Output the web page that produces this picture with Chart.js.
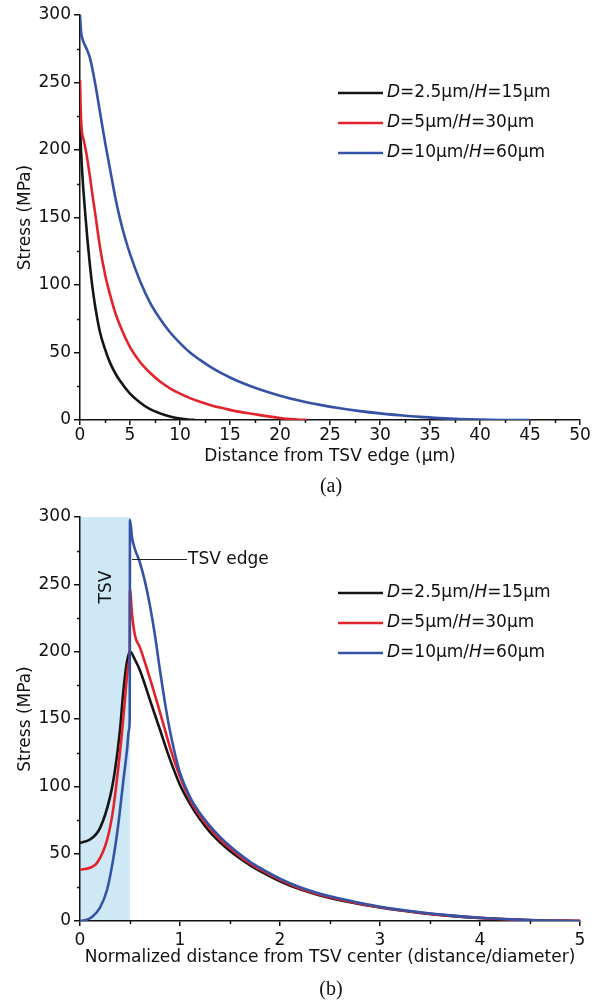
<!DOCTYPE html>
<html><head><meta charset="utf-8">
<script src="https://cdn.jsdelivr.net/npm/chart.js@4.4.1/dist/chart.umd.min.js"></script>
<style>
html,body{margin:0;padding:0;background:#fff;}
#wrap{position:relative;width:605px;height:1002px;overflow:hidden;background:#fff;}
canvas{position:absolute;left:0;display:block;}
#ca{top:0}
#cb{top:500px}
.cap{position:absolute;left:301px;width:60px;text-align:center;font-family:'Liberation Serif',serif;font-size:20px;line-height:20px;color:#111;}
</style></head><body>
<div id="wrap">
<canvas id="ca" width="605" height="500"></canvas>
<canvas id="cb" width="605" height="502"></canvas>
<div class="cap" style="top:475px">(a)</div>
<div class="cap" style="top:978px">(b)</div>
</div>
<script>
// ---------- data ----------
const seriesLabels = ['D=2.5\u03bcm/H=15\u03bcm', 'D=5\u03bcm/H=30\u03bcm', 'D=10\u03bcm/H=60\u03bcm'];
const seriesColors = ['#151515', '#e3232b', '#3553a6'];

const yTickValues = [0, 50, 100, 150, 200, 250, 300];
const xTickValuesA = [0, 5, 10, 15, 20, 25, 30, 35, 40, 45, 50];
const xTickValuesB = [0, 1, 2, 3, 4, 5];

const xTitleA = 'Distance from TSV edge (\u03bcm)';
const xTitleB = 'Normalized distance from TSV center (distance/diameter)';
const yTitle = 'Stress (MPa)';

// (a) stress vs distance from TSV edge
const aBlackX = [0, 0.1, 0.25, 0.5, 0.75, 1.0, 1.25, 1.5, 2, 2.5, 3, 3.5, 4, 5, 6, 7, 8, 9, 10, 11, 11.5];
const aBlackY = [218, 200, 180, 155, 133, 114, 98, 85, 65, 52.5, 42.5, 35, 29, 19.5, 13, 8, 4.9, 2.6, 1.0, 0.2, 0];
const aRedX = [0, 0.08, 0.17, 0.35, 0.6, 1.0, 1.3, 1.5, 2.0, 2.5, 3.0, 3.5, 4.0, 5, 6, 7, 8, 9, 10, 11, 12, 13, 14, 15, 16, 17, 18, 19, 20, 21, 22, 22.7];
const aRedY = [252, 228, 215, 208, 199, 180, 164, 154, 128, 108, 93, 80, 70, 54, 43, 35, 28.5, 23.5, 19.5, 16.2, 13.5, 11.2, 9.2, 7.5, 6, 4.8, 3.6, 2.5, 1.5, 0.7, 0.2, 0];
const aBlueX = [0, 0.1, 0.3, 0.6, 1.0, 1.5, 2.0, 2.5, 3.0, 3.5, 4.0, 4.5, 5, 6, 7, 8, 9, 10, 11, 12, 13, 14, 15, 16, 18, 20, 22, 24, 26, 28, 30, 32, 34, 36, 38, 40, 42, 45];
const aBlueY = [300, 288, 281, 276, 268, 250, 228, 206, 186, 166, 149, 135, 123, 103, 87, 75, 65, 57, 50, 44.5, 39.5, 35.2, 31.5, 28.2, 22.6, 18, 14.2, 11.2, 8.7, 6.6, 4.9, 3.5, 2.3, 1.4, 0.7, 0.25, 0.05, 0];

// (b) stress vs normalized distance from TSV center
const bBlackX = [0, 0.1, 0.2, 0.3, 0.35, 0.4, 0.43, 0.46, 0.48, 0.5, 0.55, 0.6, 0.7, 0.8, 0.9, 1.0, 1.1, 1.2, 1.3, 1.4, 1.5, 1.6, 1.7, 1.8, 2.0, 2.2, 2.4, 2.7, 3.0, 3.4, 3.7, 4.0, 4.5, 5];
const bBlackY = [58, 60.5, 69, 92, 112, 142, 168, 188, 196, 200, 194, 186, 164, 142, 120, 101, 87, 75.5, 66, 58.5, 52, 46.5, 41.5, 37, 29.5, 23.5, 19, 14, 10, 6, 3.8, 2.2, 0.6, 0];
const bRedX = [0, 0.1, 0.17, 0.27, 0.33, 0.38, 0.42, 0.45, 0.47, 0.49, 0.497, 0.5, 0.52, 0.55, 0.6, 0.7, 0.8, 0.9, 1.0, 1.1, 1.2, 1.3, 1.4, 1.5, 1.6, 1.7, 1.8, 2.0, 2.2, 2.4, 2.7, 3.0, 3.4, 3.7, 4.0, 4.5, 5];
const bRedY = [38, 39.5, 43, 60, 82, 112, 140, 165, 182, 192, 195, 246, 228, 212, 203, 180, 155, 129, 107, 90, 78, 68.5, 60.5, 54, 48, 42.8, 38.3, 30.5, 24.2, 19.5, 14.3, 10.2, 6.2, 4, 2.3, 0.7, 0.1];
const bBlueX = [0, 0.05, 0.12, 0.2, 0.27, 0.33, 0.38, 0.43, 0.47, 0.49, 0.497, 0.5, 0.52, 0.55, 0.6, 0.65, 0.7, 0.75, 0.8, 0.85, 0.9, 0.95, 1.0, 1.1, 1.2, 1.3, 1.4, 1.5, 1.6, 1.7, 1.8, 2.0, 2.2, 2.4, 2.7, 3.0, 3.4, 3.7, 4.0, 4.5, 5];
const bBlueY = [0, 0.5, 3, 10, 23, 45, 70, 102, 127, 142, 150, 298, 285, 276, 266, 252, 234, 212, 186, 162, 141, 124, 110, 92, 80, 70.5, 62.5, 55.5, 49.5, 44, 39.5, 31.5, 25, 20.2, 15, 10.6, 6.5, 4.2, 2.4, 0.7, 0];

// annotations for (b)
const tsvRegion = [0, 0.5];        // x-range of TSV shading
const tsvLabel = {text: 'TSV', x: 0.27, y: 248};
const edgeLabel = {text: 'TSV edge', x1: 0.52, x2: 1.07, xText: 1.08, y: 269};

// ---------- rendering ----------
const FONT = "'DejaVu Sans', sans-serif";
Chart.defaults.font.family = FONT;
Chart.defaults.color = '#111';

function pts(xs, ys) { return xs.map((x, i) => ({x: x, y: ys[i]})); }

function makeDatasets(series) {
  return series.map((s, i) => ({
    label: seriesLabels[i],
    data: pts(s[0], s[1]),
    borderColor: seriesColors[i],
    backgroundColor: seriesColors[i],
    borderWidth: 2.6,
    pointRadius: 0,
    fill: false,
    cubicInterpolationMode: 'monotone',
    order: series.length - 1 - i
  }));
}

const minorTicks = {
  id: 'minorTicks',
  afterDraw(chart, args, o) {
    const ctx = chart.ctx;
    const xs = chart.scales.x, ys = chart.scales.y;
    ctx.save();
    ctx.strokeStyle = '#111';
    ctx.lineWidth = 1.5;
    for (let v = xs.min + o.xStep / 2; v < xs.max; v += o.xStep) {
      const p = Math.round(xs.getPixelForValue(v)) + 0.5;
      ctx.beginPath(); ctx.moveTo(p, xs.top); ctx.lineTo(p, xs.top + o.len); ctx.stroke();
    }
    for (let v = ys.min + o.yStep / 2; v < ys.max; v += o.yStep) {
      const p = Math.round(ys.getPixelForValue(v)) + 0.5;
      ctx.beginPath(); ctx.moveTo(ys.right, p); ctx.lineTo(ys.right - o.len, p); ctx.stroke();
    }
    ctx.restore();
  }
};

const mixedLegend = {
  id: 'mixedLegend',
  afterDatasetsDraw(chart, args, o) {
    const ctx = chart.ctx;
    chart.data.datasets.forEach((ds, i) => {
      const y = o.y0 + i * o.dy;
      ctx.save();
      ctx.strokeStyle = ds.borderColor;
      ctx.lineWidth = 2.6;
      ctx.beginPath(); ctx.moveTo(o.x0, y); ctx.lineTo(o.x1, y); ctx.stroke();
      ctx.fillStyle = '#111';
      ctx.textBaseline = 'middle';
      const runs = [];
      for (const ch of ds.label) {
        const it = (ch === 'D' || ch === 'H');
        if (runs.length && runs[runs.length - 1].it === it) runs[runs.length - 1].t += ch;
        else runs.push({t: ch, it: it});
      }
      let x = o.xt;
      runs.forEach(r => {
        ctx.font = (r.it ? 'italic ' : '') + o.size + 'px ' + FONT;
        ctx.fillText(r.t, x, y);
        x += ctx.measureText(r.t).width;
      });
      ctx.restore();
    });
  }
};

const tsvPlugin = {
  id: 'tsv',
  beforeDraw(chart) {
    const xs = chart.scales.x, ys = chart.scales.y, ctx = chart.ctx;
    const x0 = xs.getPixelForValue(tsvRegion[0]), x1 = xs.getPixelForValue(tsvRegion[1]);
    const y0 = ys.getPixelForValue(ys.max), y1 = ys.getPixelForValue(ys.min);
    ctx.save();
    ctx.fillStyle = 'rgb(207,232,245)';
    ctx.fillRect(x0, y0, x1 - x0, y1 - y0);
    ctx.restore();
  },
  afterDatasetsDraw(chart) {
    const xs = chart.scales.x, ys = chart.scales.y, ctx = chart.ctx;
    ctx.save();
    ctx.fillStyle = '#111';
    ctx.font = '17px ' + FONT;
    ctx.textAlign = 'center';
    ctx.textBaseline = 'middle';
    ctx.translate(xs.getPixelForValue(tsvLabel.x), ys.getPixelForValue(tsvLabel.y));
    ctx.rotate(-Math.PI / 2);
    ctx.fillText(tsvLabel.text, 0, 0);
    ctx.restore();

    ctx.save();
    const yy = Math.round(ys.getPixelForValue(edgeLabel.y)) + 0.5;
    ctx.strokeStyle = '#222';
    ctx.lineWidth = 1;
    ctx.beginPath();
    ctx.moveTo(xs.getPixelForValue(edgeLabel.x1), yy);
    ctx.lineTo(xs.getPixelForValue(edgeLabel.x2), yy);
    ctx.stroke();
    ctx.fillStyle = '#111';
    ctx.font = '17px ' + FONT;
    ctx.textBaseline = 'middle';
    ctx.fillText(edgeLabel.text, xs.getPixelForValue(edgeLabel.xText), yy);
    ctx.restore();
  }
};

function makeChart(id, series, xTicks, xTitle, lay, extraPlugins) {
  const xStep = xTicks[1] - xTicks[0];
  const yStep = yTickValues[1] - yTickValues[0];
  return new Chart(document.getElementById(id), {
    type: 'line',
    data: {datasets: makeDatasets(series)},
    plugins: [minorTicks, mixedLegend].concat(extraPlugins),
    options: {
      responsive: false,
      animation: false,
      devicePixelRatio: 1,
      layout: {padding: {left: 0, right: 25, top: lay.top, bottom: 0}},
      plugins: {
        legend: {display: false},
        tooltip: {enabled: false},
        minorTicks: {xStep: xStep, yStep: yStep, len: 3},
        mixedLegend: {x0: 338, x1: 383, xt: 387, y0: 93, dy: 30, size: 17}
      },
      scales: {
        x: {
          type: 'linear',
          min: xTicks[0], max: xTicks[xTicks.length - 1],
          afterBuildTicks: (s) => { s.ticks = xTicks.map(v => ({value: v})); },
          afterFit: (s) => { s.height = lay.xH; },
          grid: {display: true, drawOnChartArea: false, drawTicks: true, tickLength: 5, color: '#111', lineWidth: 1.5},
          border: {display: true, color: '#111', width: 1.5},
          ticks: {padding: lay.xPad, font: {size: 17}, color: '#111', maxRotation: 0, autoSkip: false},
          title: {display: true, text: xTitle, font: {size: 17}, color: '#111', padding: {top: 0, bottom: lay.xTitlePad}}
        },
        y: {
          type: 'linear',
          min: yTickValues[0], max: yTickValues[yTickValues.length - 1],
          afterBuildTicks: (s) => { s.ticks = yTickValues.map(v => ({value: v})); },
          afterFit: (s) => { s.width = 80; },
          grid: {display: true, drawOnChartArea: false, drawTicks: true, tickLength: 6, color: '#111', lineWidth: 1.5},
          border: {display: true, color: '#111', width: 1.5},
          ticks: {padding: 3, font: {size: 17}, color: '#111'},
          title: {display: true, text: yTitle, font: {size: 17}, color: '#111', padding: {top: 15, bottom: 0}}
        }
      }
    }
  });
}

makeChart('ca', [[aBlackX, aBlackY], [aRedX, aRedY], [aBlueX, aBlueY]], xTickValuesA, xTitleA,
  {top: 15, xH: 80, xPad: 0, xTitlePad: 33}, []);
makeChart('cb', [[bBlackX, bBlackY], [bRedX, bRedY], [bBlueX, bBlueY]], xTickValuesB, xTitleB,
  {top: 17, xH: 81, xPad: 4, xTitlePad: 34}, [tsvPlugin]);
</script>
</body></html>
